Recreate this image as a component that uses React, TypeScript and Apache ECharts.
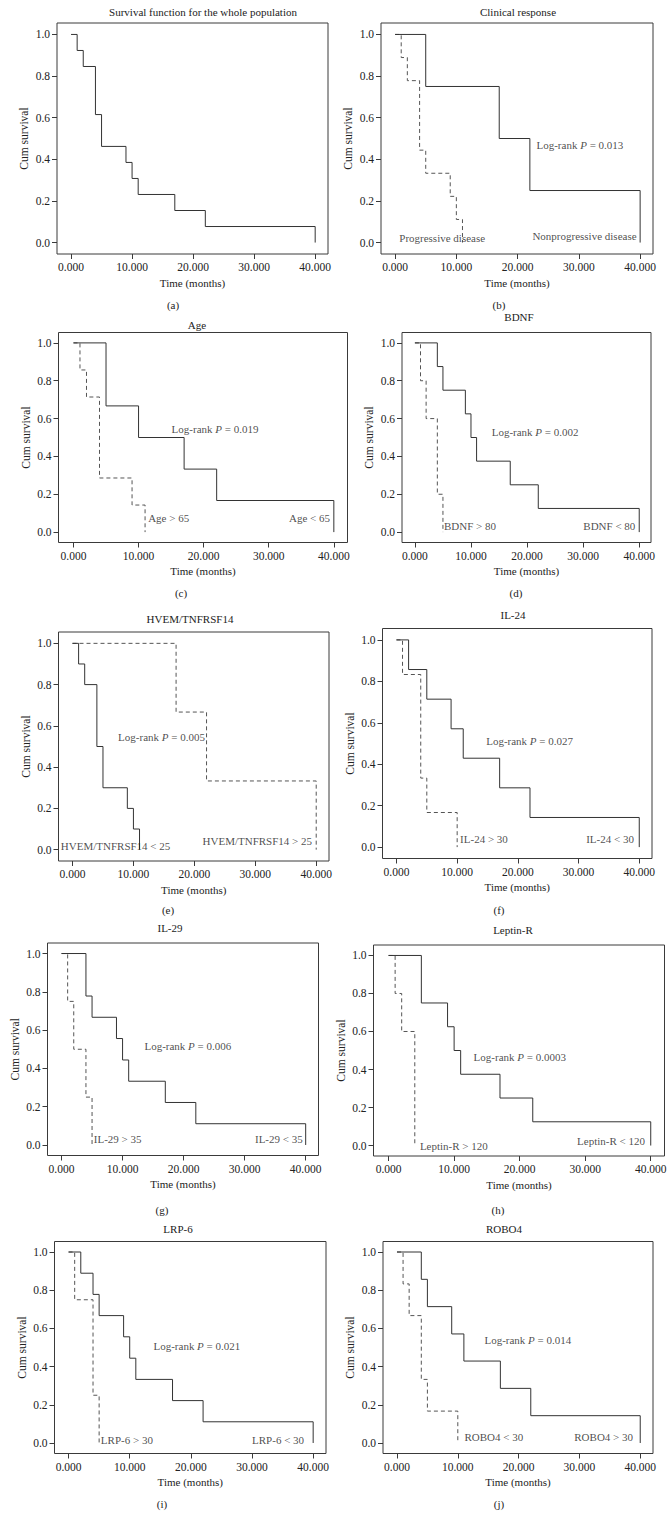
import React, { useEffect, useRef } from "react";
import * as echarts from "echarts";

// ---------- data ----------
const xTicks = [0, 10, 20, 30, 40];
const yTicks = [0, 0.2, 0.4, 0.6, 0.8, 1.0];

// (a) whole population
const allTime = [0, 1, 2, 4, 5, 9, 10, 11, 17, 22, 40];
const allSurv = [1, 0.923, 0.846, 0.615, 0.462, 0.385, 0.308, 0.231, 0.154, 0.077, 0];
// (b) clinical response
const nonProgTime = [0, 5, 17, 22, 40];
const nonProgSurv = [1, 0.75, 0.5, 0.25, 0];
const progTime = [0, 1, 2, 4, 5, 9, 10, 11];
const progSurv = [1, 0.889, 0.778, 0.444, 0.333, 0.222, 0.111, 0];
// (c) age
const ageLowTime = [0, 5, 10, 17, 22, 40];
const ageLowSurv = [1, 0.667, 0.5, 0.333, 0.167, 0];
const ageHighTime = [0, 1, 2, 4, 9, 11];
const ageHighSurv = [1, 0.857, 0.714, 0.286, 0.143, 0];
// (d) BDNF
const bdnfLowTime = [0, 4, 5, 9, 10, 11, 17, 22, 40];
const bdnfLowSurv = [1, 0.875, 0.75, 0.625, 0.5, 0.375, 0.25, 0.125, 0];
const bdnfHighTime = [0, 1, 2, 4, 5];
const bdnfHighSurv = [1, 0.8, 0.6, 0.2, 0];
// (e) HVEM/TNFRSF14
const hvemLowTime = [0, 1, 2, 4, 5, 9, 10, 11];
const hvemLowSurv = [1, 0.9, 0.8, 0.5, 0.3, 0.2, 0.1, 0];
const hvemHighTime = [0, 17, 22, 40];
const hvemHighSurv = [1, 0.667, 0.333, 0];
// (f) IL-24
const il24LowTime = [0, 2, 5, 9, 11, 17, 22, 40];
const il24LowSurv = [1, 0.857, 0.714, 0.571, 0.429, 0.286, 0.143, 0];
const il24HighTime = [0, 1, 4, 5, 10];
const il24HighSurv = [1, 0.833, 0.333, 0.167, 0];
// (g) IL-29
const il29LowTime = [0, 4, 5, 9, 10, 11, 17, 22, 40];
const il29LowSurv = [1, 0.778, 0.667, 0.556, 0.444, 0.333, 0.222, 0.111, 0];
const il29HighTime = [0, 1, 2, 4, 5];
const il29HighSurv = [1, 0.75, 0.5, 0.25, 0];
// (h) Leptin-R
const leptinLowTime = [0, 5, 9, 10, 11, 17, 22, 40];
const leptinLowSurv = [1, 0.75, 0.625, 0.5, 0.375, 0.25, 0.125, 0];
const leptinHighTime = [0, 1, 2, 4];
const leptinHighSurv = [1, 0.8, 0.6, 0];
// (i) LRP-6
const lrpLowTime = [0, 2, 4, 5, 9, 10, 11, 17, 22, 40];
const lrpLowSurv = [1, 0.889, 0.778, 0.667, 0.556, 0.444, 0.333, 0.222, 0.111, 0];
const lrpHighTime = [0, 1, 4, 5];
const lrpHighSurv = [1, 0.75, 0.25, 0];
// (j) ROBO4
const roboHighTime = [0, 4, 5, 9, 11, 17, 22, 40];
const roboHighSurv = [1, 0.857, 0.714, 0.571, 0.429, 0.286, 0.143, 0];
const roboLowTime = [0, 1, 2, 4, 5, 10];
const roboLowSurv = [1, 0.833, 0.667, 0.333, 0.167, 0];

const titles = [
  "Survival function for the whole population",
  "Clinical response",
  "Age",
  "BDNF",
  "HVEM/TNFRSF14",
  "IL-24",
  "IL-29",
  "Leptin-R",
  "LRP-6",
  "ROBO4",
];
const tags = ["(a)", "(b)", "(c)", "(d)", "(e)", "(f)", "(g)", "(h)", "(i)", "(j)"];
const pValues = ["", "0.013", "0.019", "0.002", "0.005", "0.027", "0.006", "0.0003", "0.021", "0.014"];
const groupLabels = [
  ["", ""],
  ["Progressive disease", "Nonprogressive disease"],
  ["Age > 65", "Age < 65"],
  ["BDNF > 80", "BDNF < 80"],
  ["HVEM/TNFRSF14 < 25", "HVEM/TNFRSF14 > 25"],
  ["IL-24 > 30", "IL-24 < 30"],
  ["IL-29 > 35", "IL-29 < 35"],
  ["Leptin-R > 120", "Leptin-R < 120"],
  ["LRP-6 > 30", "LRP-6 < 30"],
  ["ROBO4 < 30", "ROBO4 > 30"],
];

// annotation anchors in data units: [logrank x,y], [left label x,y], [right label end x,y]
const noteAnchors = [
  null,
  [[23, 0.47], [0.6, 0.02], [39.5, 0.03]],
  [[15.0, 0.546], [11.4, 0.076], [39.5, 0.076]],
  [[13.6, 0.527], [5.1, 0.03], [39.4, 0.03]],
  [[7.4, 0.548], [-2.0, 0.02], [39.4, 0.04]],
  [[14.7, 0.514], [10.4, 0.04], [39.2, 0.04]],
  [[13.5, 0.515], [5.2, 0.03], [39.6, 0.03]],
  [[12.9, 0.467], [4.7, 0.0], [39.2, 0.026]],
  [[13.8, 0.51], [5.2, 0.018], [38.6, 0.018]],
  [[14.3, 0.539], [11.0, 0.03], [38.9, 0.03]],
];

// curves per panel: [time, surv, dashed]
const curves: any[] = [
  [[allTime, allSurv, false]],
  [[nonProgTime, nonProgSurv, false], [progTime, progSurv, true]],
  [[ageLowTime, ageLowSurv, false], [ageHighTime, ageHighSurv, true]],
  [[bdnfLowTime, bdnfLowSurv, false], [bdnfHighTime, bdnfHighSurv, true]],
  [[hvemLowTime, hvemLowSurv, false], [hvemHighTime, hvemHighSurv, true]],
  [[il24LowTime, il24LowSurv, false], [il24HighTime, il24HighSurv, true]],
  [[il29LowTime, il29LowSurv, false], [il29HighTime, il29HighSurv, true]],
  [[leptinLowTime, leptinLowSurv, false], [leptinHighTime, leptinHighSurv, true]],
  [[lrpLowTime, lrpLowSurv, false], [lrpHighTime, lrpHighSurv, true]],
  [[roboHighTime, roboHighSurv, false], [roboLowTime, roboLowSurv, true]],
];

// ---------- layout ----------
const BOXES = [
  [57, 23, 328, 254],
  [381, 23, 653, 254],
  [58.5, 332.5, 347.5, 542.5],
  [402, 332.5, 651, 542.5],
  [58.5, 632, 329, 861],
  [382.5, 628.5, 652, 858.5],
  [47.5, 943, 318.5, 1155.5],
  [373.5, 945, 664.5, 1156],
  [54.5, 1241.5, 326, 1453.5],
  [383, 1241.5, 653, 1453.5],
];
const TITLE_POS = [
  [203, 12], [518, 12], [197, 325], [519, 317], [190, 619],
  [513, 615], [170, 928], [513, 930], [178, 1229], [504, 1229],
];
const TAG_POS = [
  [173, 305], [499, 305], [181, 593], [516, 593], [168, 910],
  [499, 910], [162, 1210], [498, 1210], [162, 1504], [499, 1504],
];

const FONT = "'Liberation Serif', 'DejaVu Serif', serif";
const TXT = "#222";
const LINE = "#333";
const DASH = "#555";

export default function App() {
  const ref = useRef<HTMLDivElement>(null);
  useEffect(() => {
    if (!ref.current) return;
    const chart = echarts.init(ref.current, null, { renderer: "svg" });
    const grid: any[] = [];
    const xAxis: any[] = [];
    const yAxis: any[] = [];
    const series: any[] = [];
    const graphic: any[] = [];
    const txt = { color: TXT, fontFamily: FONT, fontWeight: "normal" as const };
    BOXES.forEach((b, i) => {
      grid.push({
        left: b[0], top: b[1], width: b[2] - b[0], height: b[3] - b[1],
        show: true, borderColor: "#3a3a3a", borderWidth: 1, backgroundColor: "transparent",
      });
      xAxis.push({
        type: "value", gridIndex: i, min: -2.3, max: 42.1, position: "bottom",
        axisLine: { show: false, onZero: false },
        axisTick: { show: true, customValues: xTicks, length: 5, lineStyle: { color: "#3a3a3a" } },
        axisLabel: {
          customValues: xTicks, margin: 7, fontSize: 11.5, ...txt,
          formatter: (v: number) => v.toFixed(3),
        },
        splitLine: { show: false },
        name: "Time (months)", nameLocation: "middle", nameGap: 23,
        nameTextStyle: { fontSize: 11, ...txt },
      });
      yAxis.push({
        type: "value", gridIndex: i, min: -0.055, max: 1.055, position: "left",
        axisLine: { show: false, onZero: false },
        axisTick: { show: true, customValues: yTicks, length: 5, lineStyle: { color: "#3a3a3a" } },
        axisLabel: {
          customValues: yTicks, margin: 7, fontSize: 11.5, ...txt,
          formatter: (v: number) => v.toFixed(1),
        },
        splitLine: { show: false },
        name: "Cum survival", nameLocation: "middle", nameGap: 27, nameRotate: 90,
        nameTextStyle: { fontSize: 11.5, ...txt },
      });
      curves[i].forEach((c: any) => {
        const [t, s, dashed] = c;
        series.push({
          type: "line", xAxisIndex: i, yAxisIndex: i, step: "end", symbol: "none",
          silent: true, z: dashed ? 3 : 4,
          lineStyle: { color: dashed ? DASH : LINE, width: 1, type: dashed ? [4, 3] : "solid" },
          data: t.map((x: number, k: number) => [x, s[k]]),
        });
      });
      const na = noteAnchors[i];
      if (na) {
        const base = { fontFamily: FONT, fontSize: 11, color: TXT, fontWeight: "normal" };
        series.push({
          type: "scatter", xAxisIndex: i, yAxisIndex: i, symbolSize: 1, silent: true,
          itemStyle: { color: "rgba(0,0,0,0)" }, z: 6,
          data: [
            {
              value: na[0],
              label: {
                show: true, position: "right", distance: 0,
                formatter: "{n|Log-rank }{i|P}{n| = " + pValues[i] + "}",
                rich: { n: { ...base }, i: { ...base, fontStyle: "italic" } },
              },
            },
            {
              value: na[1],
              label: { show: true, position: "right", distance: 0, formatter: groupLabels[i][0], ...base },
            },
            {
              value: na[2],
              label: { show: true, position: "left", distance: 0, formatter: groupLabels[i][1], ...base },
            },
          ],
        });
      }
      graphic.push({
        type: "text", x: TITLE_POS[i][0], y: TITLE_POS[i][1],
        style: { text: titles[i], fill: TXT, fontFamily: FONT, fontSize: 11, fontWeight: "normal", align: "center", verticalAlign: "middle" },
      });
      graphic.push({
        type: "text", x: TAG_POS[i][0], y: TAG_POS[i][1],
        style: { text: tags[i], fill: TXT, fontFamily: FONT, fontSize: 11, fontWeight: "normal", align: "center", verticalAlign: "middle" },
      });
    });
    chart.setOption({
      animation: false,
      backgroundColor: "#fff",
      grid, xAxis, yAxis, series, graphic,
    });
    return () => chart.dispose();
  }, []);
  return (
    <div
      ref={ref}
      style={{ position: "absolute", left: 0, top: 0, width: 672, height: 1517, background: "#fff" }}
    />
  );
}
